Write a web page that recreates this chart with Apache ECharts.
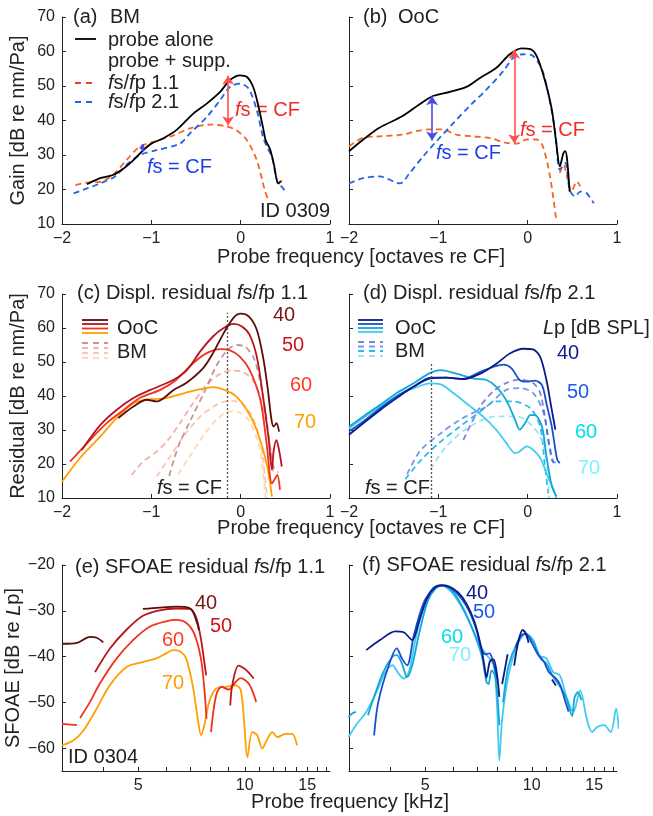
<!DOCTYPE html>
<html>
<head>
<meta charset="utf-8">
<script src="https://cdn.jsdelivr.net/npm/echarts@6/dist/echarts.min.js"></script>
<style>
  html, body { margin: 0; padding: 0; background: #fff; }
  #chart { width: 653px; height: 816px; }
</style>
</head>
<body>
<div id="chart"></div>
<script>
// ---- data (x in octaves re CF, y in dB); null = gap in a curve ----
var octTicks = [-2, -1, 0, 1];
var gainTicks = [10, 20, 30, 40, 50, 60, 70];
var levels = ['40', '50', '60', '70'];

// (a) BM, ID 0309
var aProbeAlone = [[-1.72,21.5],[-1.58,23.2],[-1.43,24.2],[-1.31,26.1],[-1.2,28.5],[-1.09,31.4],[-1.0,33.3],[-0.87,34.8],[-0.72,37.2],[-0.53,42],[-0.38,44.9],[-0.23,48.3],[-0.12,51.7],[-0.01,53.1],[0.07,52.6],[0.14,49.7],[0.2,44],[0.25,38],[0.28,34.3],[0.33,31.6],[0.37,27.5],[0.42,21.8],[0.45,22.3]];
var aSupp11 = [[-1.85,21.3],[-1.72,22],[-1.57,22.2],[-1.41,24.7],[-1.28,28.5],[-1.13,32.4],[-0.98,33.8],[-0.75,35.7],[-0.57,37.7],[-0.34,38.8],[-0.16,38.3],[-0.05,37.2],[0.07,34.3],[0.18,28.5],[0.27,19.8],[0.3,17.5],null,[0.42,21.5],[0.45,22.5],[0.48,21.5]];
var aSupp21 = [[-1.87,18.9],[-1.72,20.3],[-1.57,21.8],[-1.41,23.7],[-1.28,27.1],[-1.13,30],[-0.94,31.4],[-0.68,33.3],[-0.57,36.2],[-0.38,41],[-0.23,45.9],[-0.12,49.7],[-0.01,50.7],[0.09,49.2],[0.18,43],[0.25,35.3],[0.3,32],[0.35,29.5],[0.42,21.3],[0.46,20.8],[0.51,19]];
var aArrow11 = [-0.14, 53, 38.6];
var aArrow21 = [-1.1, 33.2, 31];

// (b) OoC
var bProbeAlone = [[-2,31.1],[-1.84,34.5],[-1.66,37.9],[-1.4,41.3],[-1.21,44.7],[-1.06,47.1],[-0.87,48.3],[-0.68,49.8],[-0.53,52.4],[-0.35,55.3],[-0.2,59.2],[-0.07,60.9],[0.03,60.7],[0.1,58.7],[0.19,51.9],[0.27,43.2],[0.32,33.5],[0.36,26.7],[0.4,30.5],[0.42,31.1],[0.44,29],[0.47,19.4]];
var bSupp11 = [[-2,32.5],[-1.84,35],[-1.66,35.4],[-1.4,35.9],[-1.25,36.9],[-1.1,37.4],[-0.95,37.4],[-0.8,35.9],[-0.61,35.4],[-0.42,34.9],[-0.24,33.5],[-0.12,33.3],[-0.01,34.5],[0.1,34.5],[0.17,32.5],[0.25,23.8],[0.32,11.2],null,[0.36,24.8],[0.4,27.2],[0.45,22.8],[0.49,19.4],[0.55,22.3],[0.59,20.9]];
var bSupp21 = [[-2,21.8],[-1.84,23.3],[-1.66,23.8],[-1.43,21.8],[-1.32,24.8],[-1.17,29.6],[-1.02,34],[-0.83,39.3],[-0.65,44.2],[-0.46,49],[-0.27,54.4],[-0.16,58.2],[-0.05,59.2],[0.06,58.7],[0.16,54.8],[0.23,48],[0.31,36.4],[0.36,25.7],[0.42,27.7],[0.47,19.9],[0.53,18],[0.59,19.4],[0.66,18.9],[0.74,16]];
var bArrow11 = [-0.15, 60.5, 33.4];
var bArrow21 = [-1.07, 47, 34.2];

// (c) displacement residual fs/fp 1.1
var cFsCF = -0.145;
var cOoC40 = [[-1.37,33.5],[-1.2,36.9],[-1.05,38.9],[-0.94,38.4],[-0.86,39.4],[-0.75,41.8],[-0.61,43.8],[-0.42,48.2],[-0.31,52.6],[-0.19,58.5],[-0.08,63],[0,64.2],[0.09,63.4],[0.18,59.5],[0.25,51.6],[0.3,42.8],[0.345,33],[0.37,31],[0.4,32],[0.43,29.5]];
var cOoC50 = [[-1.78,24.1],[-1.57,31.5],[-1.39,35.9],[-1.2,39.4],[-1.01,41.8],[-0.75,44.8],[-0.6,47.7],[-0.45,53.2],[-0.31,57.5],[-0.19,60],[-0.08,61.2],[0.01,60.5],[0.1,58],[0.18,51.6],[0.25,39.9],[0.31,28.1],[0.35,18.3],[0.37,24],[0.4,27],[0.43,24.1],[0.46,19.2]];
var cOoC60 = [[-1.91,20.7],[-1.72,26.1],[-1.5,32],[-1.31,35.9],[-1.13,39.4],[-0.9,41.8],[-0.72,44.8],[-0.53,49.7],[-0.38,52.6],[-0.23,53.8],[-0.12,53.4],[-0.01,51.6],[0.1,47.7],[0.22,38.9],[0.29,26.1],[0.35,14.3],[0.38,15.5],[0.41,16.8],[0.44,12.4]];
var cOoC70 = [[-2,14.8],[-1.8,21.7],[-1.57,28.1],[-1.39,33.5],[-1.2,37.9],[-1.05,38.9],[-0.83,39.4],[-0.64,40.8],[-0.45,42],[-0.31,42.6],[-0.16,41.6],[-0.05,39.9],[0.07,35.9],[0.18,30],[0.29,20.2],[0.35,10.4]];
var cBM40 = [[-0.8,16.5],[-0.7,25],[-0.55,33.5],[-0.4,41.5],[-0.28,48.5],[-0.15,53.5],[-0.05,55],[0.05,54.5],[0.15,51],[0.22,44],[0.28,35],[0.33,25],[0.37,19],[0.42,17.5]];
var cBM50 = [[-1.22,16.8],[-1.1,20.5],[-0.95,23.5],[-0.83,26.5],[-0.68,32],[-0.53,38],[-0.38,43.3],[-0.23,46.5],[-0.1,47.5],[0.03,47],[0.14,44.5],[0.22,39.5],[0.29,31.5],[0.34,23],[0.37,17]];
var cBM60 = [[-0.94,16.3],[-0.79,22.2],[-0.64,28.1],[-0.45,34],[-0.27,37.4],[-0.12,38.6],[0,38],[0.1,35.4],[0.2,29],[0.25,22],[0.28,14],[0.3,10]];
var cBM70 = [[-0.7,17],[-0.55,23],[-0.4,29],[-0.25,33.5],[-0.12,35.5],[0,35],[0.1,32.5],[0.2,26],[0.25,18],[0.28,10]];

// (d) displacement residual fs/fp 2.1
var dFsCF = -1.075;
var dOoC40 = [[-2,28.6],[-1.84,32],[-1.65,35.9],[-1.47,39.3],[-1.28,42.7],[-1.09,45.2],[-0.91,45.4],[-0.72,45],[-0.53,46.6],[-0.35,49.5],[-0.2,52.5],[-0.05,53.9],[0.06,53.7],[0.14,51.5],[0.21,44.7],[0.27,35.9],[0.31,30.1]];
var dOoC50 = [[-2,29.6],[-1.84,32.5],[-1.65,36.4],[-1.47,39.8],[-1.28,42.7],[-1.09,45.4],[-0.91,45.4],[-0.72,45],[-0.53,47.1],[-0.38,48.6],[-0.27,49.2],[-0.18,48.1],[-0.09,44.7],[-0.01,44.2],[0.08,44.5],[0.16,43.2],[0.21,37.8],[0.27,31],[0.33,21.3],[0.36,20.3]];
var dOoC60 = [[-2,31],[-1.84,34],[-1.65,37.4],[-1.47,40.8],[-1.28,43.7],[-1.09,46.8],[-0.98,47.6],[-0.8,46.6],[-0.6,45.1],[-0.46,44.7],[-0.35,42.7],[-0.24,38.8],[-0.14,33],[-0.09,30.1],[-0.03,32],[0.03,34.4],[0.08,34.4],[0.16,31],[0.21,22.3],[0.27,13.5],[0.32,10.6]];
var dOoC70 = [[-2,30.5],[-1.84,33.5],[-1.65,36.9],[-1.47,40],[-1.28,42.2],[-1.09,43.7],[-0.98,43.5],[-0.83,40.8],[-0.64,36.9],[-0.5,34],[-0.35,30],[-0.24,26.2],[-0.14,23.2],[-0.09,23.7],[-0.01,25.2],[0.06,24.2],[0.14,21.8],[0.21,17.4],[0.29,12.5],[0.32,10]];
var dBM40 = [[-0.72,27.1],[-0.53,36.9],[-0.38,41.5],[-0.24,43.8],[-0.09,44.8],[0.06,43.8],[0.14,40.9],[0.21,31],[0.27,21.2],[0.3,20.5],[0.33,20.7]];
var dBM50 = [[-1.35,17],[-1.2,24],[-0.95,29.5],[-0.76,33],[-0.6,35.2],[-0.46,36.9],[-0.24,41.8],[-0.09,42.3],[0.06,40.9],[0.18,35],[0.23,27.1],[0.29,20.2]];
var dBM60 = [[-1.37,15.5],[-1.2,21],[-1.0,26],[-0.76,31],[-0.55,35],[-0.35,38.4],[-0.16,38.4],[0.03,36.4],[0.14,31],[0.19,20.2],[0.23,11.4]];
var dBM70 = [[-1.09,18.4],[-0.91,25.2],[-0.65,31],[-0.35,34],[-0.12,34],[0.06,31],[0.17,26.2],[0.22,18.4],[0.24,10]];

// (e),(f) SFOAE residual, x in kHz
var khzLabels = [5, 10, 15];
var khzTicks = [4, 5, 6, 7, 8, 9, 10, 11, 12, 13, 14, 15, 16, 17];
var sfoaeTicks = [-60, -50, -40, -30, -20];
var e40 = [[3.05,-37.2],[3.36,-37.0],[3.66,-35.7],[3.82,-35.9],[3.99,-36.9],null,[5.16,-29.6],[5.75,-29.3],[6.4,-29.1],[6.83,-29.2],[7.1,-29.9],[7.37,-33.1],[7.42,-34.2]];
var e50 = [[3.78,-43.4],[4.17,-38.2],[4.63,-34.2],[5.16,-31.1],[5.75,-29.9],[6.4,-29.5],[6.98,-29.6],[7.28,-31.3],[7.52,-36.1],[7.69,-41.2],[7.78,-44.1],null,[9.1,-50.7],[9.22,-46.3],[9.6,-42],[10.05,-42.8],[10.6,-44.8]];
var e60 = [[3.05,-54.7],[3.36,-55.0],null,[3.43,-53.4],[3.66,-49.9],[3.9,-45.9],[4.35,-40.4],[4.84,-36.4],[5.39,-33.5],[6.0,-32.3],[6.4,-32],[6.83,-32.6],[7.2,-35],[7.52,-40.4],[7.69,-47],[7.8,-53.6],null,[8.03,-56.5],[8.3,-48.5],[8.6,-46.6],[9.0,-47.2],[9.44,-45.5],[9.73,-44.7],[10.3,-46.1],[10.77,-49.9]];
var e70 = [[3.05,-59.4],[3.29,-58.3],[3.51,-56.1],[3.82,-51.4],[4.16,-46.3],[4.64,-42.3],[5.16,-41.2],[5.63,-40.4],[6.0,-39.3],[6.27,-38.6],[6.54,-38.8],[6.83,-40.4],[7.13,-46.3],[7.37,-53.6],[7.53,-57.2],[7.69,-55],[7.94,-49.9],[8.29,-47],[8.85,-46.6],[9.44,-46.3],[9.75,-47.4],[9.96,-54.3],[10.17,-62],[10.5,-56.5],[10.85,-57.2],[11.2,-60.1],[11.58,-58],[11.96,-56.5],[12.35,-57.6],[13.03,-56.9],[13.6,-56.9],[14.05,-59.4]];
var f40 = [[3.41,-38.6],[3.73,-36.4],[4.12,-34.5],[4.35,-34.7],[4.6,-36.4],[4.8,-32.5],[5.05,-27.5],[5.3,-25],[5.55,-24.4],[5.85,-24.7],[6.2,-26],[6.55,-28.5],[6.9,-32.5],[7.2,-38],[7.35,-42],[7.45,-44.6],[7.62,-41],[7.8,-40.6],[7.98,-44],[8.1,-48.8],null,[8.25,-46],[8.55,-39.5],null,[8.92,-42],[9.15,-37],[9.42,-34.2],[9.6,-34.8],[9.8,-37],null,[11.4,-45],[11.7,-46.3]];
var f50 = [[3.59,-57.2],[3.69,-49.9],[3.95,-41.9],[4.16,-38.2],[4.3,-40.4],[4.45,-41.9],[4.65,-35.3],[4.97,-28],[5.31,-25.1],[5.6,-24.5],[5.92,-25.1],[6.33,-27.3],[6.7,-30.5],[7.0,-34.5],[7.22,-38.5],[7.4,-39.5],[7.6,-39.3],[7.8,-41.5],[8.0,-45],null,[9.0,-38],[9.3,-35.5],[9.6,-35],[10.0,-37],[10.4,-39.5],[10.8,-41],[11.2,-43.5],[11.6,-44.5],[12.0,-46],[12.4,-49.5],[12.7,-52]];
var f60 = [[3.04,-53.2],[3.12,-52.4],[3.19,-52.1],null,[3.45,-52.8],[3.6,-48.5],[3.81,-43.4],[4.04,-40.1],[4.16,-39.7],[4.3,-41.5],[4.45,-44.5],[4.6,-41.9],[4.8,-35.3],[5.08,-28],[5.37,-25],[5.6,-24.5],[5.99,-25.8],[6.41,-29.5],[6.85,-34.6],[7.22,-39.7],[7.45,-45.5],[7.55,-46],[7.7,-43],[7.9,-44.5],[8.1,-55],null,[8.3,-50],[8.6,-42],[9.1,-37],[9.6,-35],[10.1,-36.8],[10.6,-40.5],[11.0,-41.5],[11.5,-44.5],[12.0,-46.5],[12.5,-49],[13.0,-53],[13.2,-49],[13.5,-47.8],[13.8,-49.5]];
var f70 = [[3.04,-57.6],[3.19,-55],[3.41,-52.1],[3.65,-47.7],[3.86,-43.4],[4.04,-41.9],[4.21,-43.7],[4.35,-44.8],[4.5,-43.4],[4.7,-36.1],[4.97,-28.8],[5.25,-25.1],[5.55,-24.5],[5.92,-25.8],[6.33,-29.1],[6.77,-33.5],[7.14,-37.5],[7.47,-39.7],[7.81,-41.9],[7.98,-50.7],[8.1,-62.7],[8.25,-53.6],[8.6,-44.1],[9.1,-37.5],[9.63,-35],[10.1,-36.4],[10.5,-39.7],[11.0,-40.4],[11.5,-43.4],[12.0,-44.1],[12.5,-48.5],[13.1,-52.1],[13.7,-47.4],[14.3,-53.6],[14.8,-56.5],[15.3,-55.4],[16.0,-55],[16.7,-56.5],[17.3,-51.4],[17.6,-55.8]];

// ---- styling ----
var F = 'Liberation Sans, Arial, sans-serif';
var INK = '#222';
var red = ['#5e0b0b', '#b8141c', '#f0321e', '#ffa000'];
var redLbl = ['#7a1616', '#c8141e', '#ff3c1e', '#ffa000'];
var redPale = ['rgba(150,60,60,0.55)', 'rgba(240,95,85,0.5)', 'rgba(250,150,120,0.55)', 'rgba(255,190,120,0.6)'];
var blue = ['#0c1a8a', '#1a4ed0', '#10a8d8', '#40ccf0'];
var blueLbl = ['#16188c', '#1a5aea', '#00e0ea', '#80f0ff'];
var bluePale = ['rgba(70,80,190,0.7)', 'rgba(40,100,230,0.65)', 'rgba(20,180,240,0.9)', 'rgba(140,225,250,0.9)'];
var c11 = '#fa6423', c21 = '#2462e6';

var grids = [
  { left: 62, top: 17, width: 268, height: 207 },
  { left: 349, top: 17, width: 268, height: 207 },
  { left: 62, top: 294, width: 268, height: 204 },
  { left: 349, top: 294, width: 268, height: 204 },
  { left: 62, top: 565, width: 268, height: 206 },
  { left: 349, top: 565, width: 268, height: 206 }
];

function minus(v) { return String(v).replace('-', '\u2212'); }
var axLine = { onZero: false, lineStyle: { color: INK, width: 1 } };
var axTick = { inside: true, length: 4, lineStyle: { color: INK } };
var axLbl = { color: INK, fontSize: 16, fontFamily: F, formatter: minus };

var xAxes = [], yAxes = [];
for (var g = 0; g < 6; g++) {
  if (g < 4) {
    xAxes.push({ type: 'value', gridIndex: g, min: -2, max: 1, interval: 1,
      axisLine: axLine, axisTick: axTick, axisLabel: Object.assign({ margin: 7 }, axLbl), splitLine: { show: false } });
    yAxes.push({ type: 'value', gridIndex: g, min: 10, max: 70, interval: 10,
      axisLine: axLine, axisTick: axTick, axisLabel: Object.assign({ show: g % 2 === 0, margin: 7 }, axLbl), splitLine: { show: false } });
  } else {
    xAxes.push({ type: 'log', logBase: 10, gridIndex: g, min: 3.05, max: 17.4,
      axisLine: axLine,
      axisTick: Object.assign({ customValues: khzTicks }, axTick),
      axisLabel: Object.assign({ customValues: khzLabels, margin: 7 }, axLbl),
      minorTick: { show: false }, splitLine: { show: false } });
    yAxes.push({ type: 'value', gridIndex: g, min: -65, max: -20,
      axisLine: axLine,
      axisTick: Object.assign({ customValues: sfoaeTicks }, axTick),
      axisLabel: Object.assign({ show: g === 4, customValues: sfoaeTicks, margin: 7 }, axLbl),
      splitLine: { show: false } });
  }
}
var nameStyle = { fontSize: 20, fontFamily: F, color: INK,
  rich: { n: { fontSize: 20, fontFamily: F, color: INK }, i: { fontSize: 20, fontFamily: F, color: INK, fontStyle: 'italic' } } };
yAxes[0].name = 'Gain [dB re nm/Pa]';
yAxes[2].name = 'Residual [dB re nm/Pa]';
yAxes[4].name = '{n|SFOAE [dB re }{i|L}{n|p]}';
[0, 2, 4].forEach(function (i) {
  yAxes[i].nameLocation = 'middle';
  yAxes[i].nameGap = 34;
  yAxes[i].nameTextStyle = nameStyle;
});

// ---- series ----
var series = [];
function pieces(pts) {
  var out = [], cur = [];
  pts.forEach(function (p) {
    if (p === null) { if (cur.length) out.push(cur); cur = []; }
    else cur.push(p);
  });
  if (cur.length) out.push(cur);
  return out;
}
function addCurve(g, pts, color, dashed, width) {
  pieces(pts).forEach(function (seg) {
    series.push({
      type: 'line', xAxisIndex: g, yAxisIndex: g, data: seg,
      showSymbol: false, smooth: 0.3, silent: true, z: dashed ? 2 : 3,
      lineStyle: { color: color, width: width || 1.8, type: dashed ? [6, 4] : 'solid' }
    });
  });
}
function addMarks(g, lines) {
  series.push({
    type: 'line', xAxisIndex: g, yAxisIndex: g, data: [], silent: true, z: 4,
    markLine: { silent: true, animation: false, label: { show: false }, data: lines }
  });
}
function arrow(a, color, size) {
  return [{ coord: [a[0], a[1]], symbol: 'arrow', symbolSize: size || 9, lineStyle: { color: color, width: 1.6, type: 'solid' } },
          { coord: [a[0], a[2]], symbol: 'arrow', symbolSize: size || 9 }];
}
function dotted(x, y1, y2) {
  return [{ coord: [x, y1], symbol: 'none', lineStyle: { color: '#555', width: 1.3, type: [2, 2] } },
          { coord: [x, y2], symbol: 'none' }];
}

// (a)
addCurve(0, aSupp11, c11, true);
addCurve(0, aSupp21, c21, true);
addCurve(0, aProbeAlone, '#000', false);
addMarks(0, [arrow(aArrow11, '#ff5050'), arrow(aArrow21, '#4b4be0', 5)]);
// (b)
addCurve(1, bSupp11, c11, true);
addCurve(1, bSupp21, c21, true);
addCurve(1, bProbeAlone, '#000', false);
addMarks(1, [arrow(bArrow11, '#ff5050'), arrow(bArrow21, '#4b4be0')]);
// (c)
[cBM40, cBM50, cBM60, cBM70].forEach(function (d, i) { addCurve(2, d, redPale[i], true); });
[cOoC70, cOoC60, cOoC50, cOoC40].forEach(function (d, i) { addCurve(2, d, red[3 - i], false); });
addMarks(2, [dotted(cFsCF, 10, 64.5)]);
// (d)
[dBM40, dBM50, dBM60, dBM70].forEach(function (d, i) { addCurve(3, d, bluePale[i], true); });
[dOoC70, dOoC60, dOoC50, dOoC40].forEach(function (d, i) { addCurve(3, d, blue[3 - i], false); });
addMarks(3, [dotted(dFsCF, 10, 50)]);
// (e)
[e70, e60, e50, e40].forEach(function (d, i) { addCurve(4, d, red[3 - i], false); });
// (f)
[f70, f60, f50, f40].forEach(function (d, i) { addCurve(5, d, blue[3 - i], false); });

// ---- text and legend graphics ----
var graphic = [];
function rich(color, size) {
  size = size || 20;
  return {
    n: { fontSize: size, fontFamily: F, fill: color },
    i: { fontSize: size, fontFamily: F, fill: color, fontStyle: 'italic' }
  };
}
function txt(x, y, text, color, align, size) {
  graphic.push({ type: 'text', x: x, y: y, silent: true, style: {
    text: text, fill: color || INK, fontSize: size || 20, fontFamily: F,
    align: align || 'left', verticalAlign: 'middle', rich: rich(color || INK, size) } });
}
function seg(x1, x2, y, color, dashed, w) {
  graphic.push({ type: 'line', silent: true, shape: { x1: x1, y1: y, x2: x2, y2: y },
    style: { stroke: color, lineWidth: w || 1.8, lineDash: dashed ? [6, 5] : null } });
}
var fsCF = '{i|f}{n|s = CF}';

// (a)
txt(73, 17, '(a)'); txt(110, 17, 'BM');
seg(75, 96, 39, '#000'); txt(108, 40, 'probe alone');
txt(108, 61, 'probe + supp.');
seg(75, 96, 83, '#f5392a', true); txt(108, 83, '{i|f}{n|s/}{i|f}{n|p 1.1}');
seg(75, 96, 102, c21, true); txt(108, 102, '{i|f}{n|s/}{i|f}{n|p 2.1}');
txt(235, 110, fsCF, '#f22a2a');
txt(147, 167, fsCF, '#2040e6');
txt(330, 211, 'ID 0309', INK, 'right');
// (b)
txt(363, 17, '(b)'); txt(398, 17, 'OoC');
txt(436, 153, fsCF, '#2040e6');
txt(520, 130, fsCF, '#f22a2a');
// shared x titles
txt(361, 257, 'Probe frequency [octaves re CF]', INK, 'center');
txt(361, 528, 'Probe frequency [octaves re CF]', INK, 'center');
txt(350, 802, 'Probe frequency [kHz]', INK, 'center');
// (c)
txt(77, 293, '(c) Displ. residual {i|f}{n|s/}{i|f}{n|p 1.1}');
[320, 324, 328.5, 333].forEach(function (y, i) { seg(82, 108, y, red[i], false); });
[343, 348, 353, 358].forEach(function (y, i) { seg(82, 108, y, redPale[i], true); });
txt(117, 328, 'OoC'); txt(117, 352, 'BM');
var cLblPos = [[273, 315], [282, 345], [290, 385], [294, 422]];
levels.forEach(function (l, i) { txt(cLblPos[i][0], cLblPos[i][1], l, redLbl[i]); });
txt(157, 488, fsCF);
// (d)
txt(363, 293, '(d) Displ. residual {i|f}{n|s/}{i|f}{n|p 2.1}');
[320, 324, 328, 332].forEach(function (y, i) { seg(358, 383, y, blue[i], false); });
[342, 346.5, 351, 356].forEach(function (y, i) { seg(358, 383, y, bluePale[i], true); });
txt(395, 328, 'OoC'); txt(395, 351, 'BM');
txt(543, 328, '{i|L}{n|p [dB SPL]}');
var dLblPos = [[557, 353], [567, 392], [575, 432], [578, 468]];
levels.forEach(function (l, i) { txt(dLblPos[i][0], dLblPos[i][1], l, blueLbl[i]); });
txt(365, 488, fsCF);
// (e)
txt(75, 567, '(e) SFOAE residual {i|f}{n|s/}{i|f}{n|p 1.1}');
var eLblPos = [[195, 603], [210, 626], [162, 640], [162, 683]];
levels.forEach(function (l, i) { txt(eLblPos[i][0], eLblPos[i][1], l, redLbl[i]); });
txt(68, 757, 'ID 0304');
// (f)
txt(362, 565, '(f) SFOAE residual {i|f}{n|s/}{i|f}{n|p 2.1}');
var fLblPos = [[466, 593], [473, 612], [441, 637], [449, 655]];
levels.forEach(function (l, i) { txt(fLblPos[i][0], fLblPos[i][1], l, blueLbl[i]); });

var chart = echarts.init(document.getElementById('chart'), null, { renderer: 'canvas' });
chart.setOption({
  animation: false,
  backgroundColor: '#fff',
  textStyle: { fontFamily: F },
  grid: grids,
  xAxis: xAxes,
  yAxis: yAxes,
  series: series,
  graphic: graphic
});
</script>
</body>
</html>
